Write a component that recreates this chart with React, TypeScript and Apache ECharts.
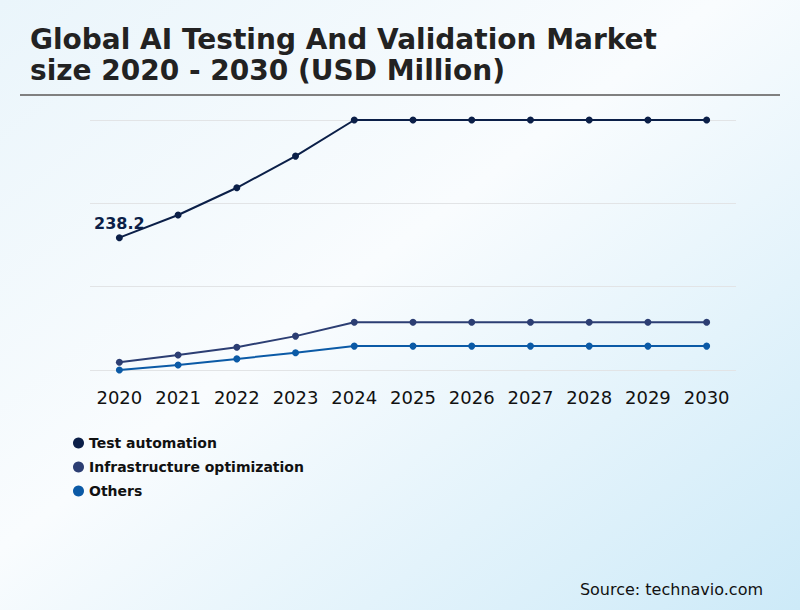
import React, { useEffect, useRef } from "react";
import * as echarts from "echarts";

const years = ["2020", "2021", "2022", "2023", "2024", "2025", "2026", "2027", "2028", "2029", "2030"];
const testAutomation = [238.2, 279, 328, 385, 450, 450, 450, 450, 450, 450, 450];
const infrastructureOptimization = [14, 27, 41, 61, 86, 86, 86, 86, 86, 86, 86];
const others = [0, 9, 20, 31, 43, 43, 43, 43, 43, 43, 43];

const seriesNames = ["Test automation", "Infrastructure optimization", "Others"];
const seriesColors = ["#0b1f48", "#2c3e73", "#0b5aa6"];

const font = "DejaVu Sans";

const App: React.FC = () => {
  const chartRef = useRef<HTMLDivElement>(null);

  useEffect(() => {
    document.body.style.margin = "0";
    if (!chartRef.current) return;

    const chart = echarts.init(chartRef.current, undefined, { renderer: "svg" });

    const lineSeries = (name: string, data: number[], color: string, withLabel: boolean) => ({
      name,
      type: "line" as const,
      data,
      symbol: "circle",
      symbolSize: 7,
      lineStyle: { width: 2, color },
      itemStyle: { color },
      label: {
        show: withLabel,
        position: "top" as const,
        distance: 3,
        fontFamily: font,
        fontWeight: "bold" as const,
        fontSize: 16,
        color,
        formatter: (p: { dataIndex: number; value: number }) => (p.dataIndex === 0 ? String(p.value) : ""),
      },
    });

    const option: echarts.EChartsOption = {
      animation: false,
      backgroundColor: new echarts.graphic.LinearGradient(0, 0, 1, 1, [
        { offset: 0, color: "#eaf5fb" },
        { offset: 0.45, color: "#f9fcfe" },
        { offset: 1, color: "#cdeaf8" },
      ]),
      textStyle: { fontFamily: font },
      title: {
        text: "Global AI Testing And Validation Market\nsize 2020 - 2030 (USD Million)",
        left: 30,
        top: 24,
        padding: 0,
        textStyle: {
          fontFamily: font,
          fontSize: 28,
          fontWeight: "bold",
          color: "#222222",
          lineHeight: 31,
        },
      },
      legend: {
        orient: "vertical",
        left: 68,
        top: 430,
        itemGap: 8,
        itemWidth: 11,
        itemHeight: 11,
        icon: "circle",
        data: seriesNames,
        textStyle: {
          fontFamily: font,
          fontSize: 14,
          fontWeight: "bold",
          color: "#111111",
          lineHeight: 16,
        },
      },
      grid: { left: 90, right: 64, top: 120, bottom: 240 },
      xAxis: {
        type: "category",
        data: years,
        boundaryGap: true,
        axisLine: { show: false },
        axisTick: { show: false },
        axisLabel: {
          interval: 0,
          hideOverlap: false,
          fontFamily: font,
          fontSize: 18,
          color: "#111111",
          margin: 18,
        },
      },
      yAxis: {
        type: "value",
        min: 0,
        max: 450,
        interval: 150,
        axisLabel: { show: false },
        axisLine: { show: false },
        axisTick: { show: false },
        splitLine: { lineStyle: { color: "#e2e4e6", width: 1 } },
      },
      series: [
        lineSeries(seriesNames[0], testAutomation, seriesColors[0], true),
        lineSeries(seriesNames[1], infrastructureOptimization, seriesColors[1], false),
        lineSeries(seriesNames[2], others, seriesColors[2], false),
      ],
      graphic: [
        {
          type: "line",
          shape: { x1: 20, y1: 95, x2: 780, y2: 95 },
          style: { stroke: "#808080", lineWidth: 2 },
        },
        {
          type: "text",
          right: 37,
          top: 581,
          style: {
            text: "Source: technavio.com",
            fontFamily: font,
            fontSize: 16,
            fill: "#111111",
          },
        },
      ],
    };

    chart.setOption(option);

    return () => {
      chart.dispose();
    };
  }, []);

  return <div ref={chartRef} style={{ width: "800px", height: "610px" }} />;
};

export default App;
